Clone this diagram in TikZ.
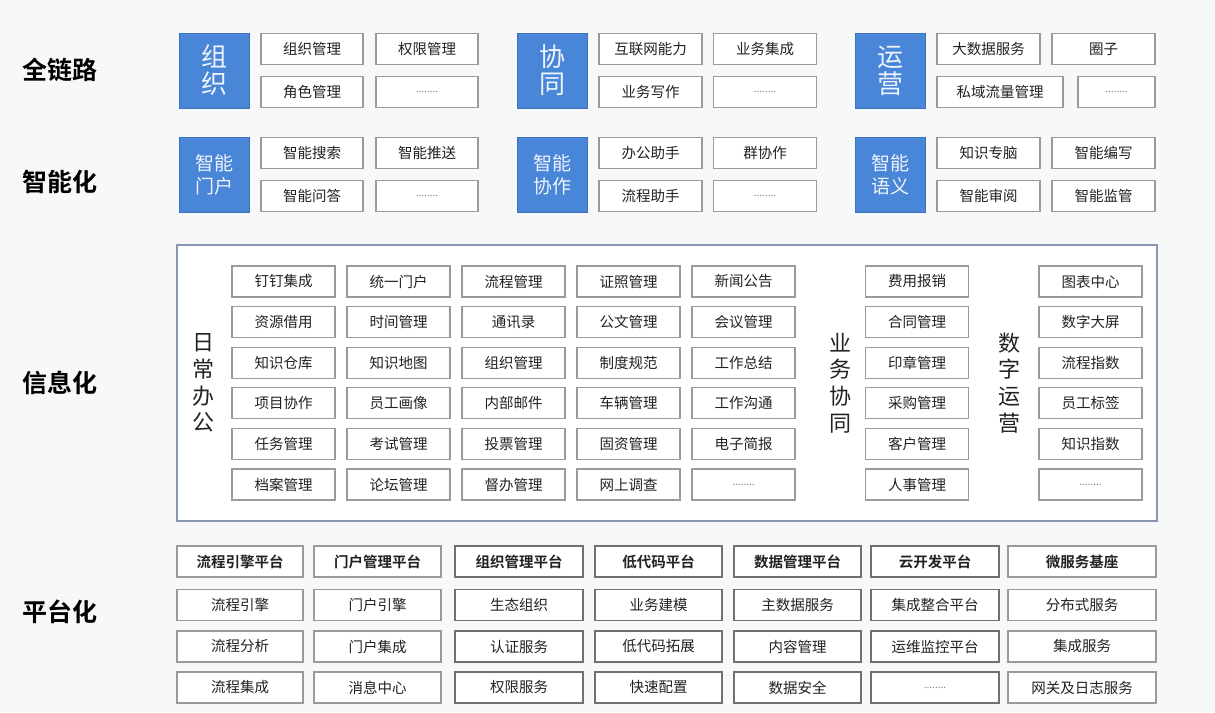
\documentclass[tikz,border=0pt]{standalone}
\usepackage{fontspec}
\setmainfont{Noto Sans CJK SC}[BoldFont={Noto Sans CJK SC Bold}]

\definecolor{bgcol}{HTML}{F7F8F9}
\definecolor{blueblk}{HTML}{4A86D8}
\definecolor{boxlight}{HTML}{9A9A9A}
\definecolor{boxdark}{HTML}{707070}
\definecolor{frameline}{HTML}{8796B2}
\definecolor{txt}{HTML}{222222}

\newcommand\moredots{{\fontsize{10}{10}\selectfont\color{gray}........}}

\begin{document}
\begin{tikzpicture}[x=1pt,y=-1pt,
	cell/.style={draw=boxlight, line width=1.2pt, fill=white, minimum width=103pt, minimum height=31pt, inner sep=0pt, text=txt, font=\fontsize{14.5}{14.5}\selectfont},
	blk/.style={fill=blueblk, draw=blueblk!85!black, line width=0.8pt, minimum width=70pt, minimum height=75pt, inner sep=0pt, align=center, text=white!90!blueblk},
	bigblk/.style={blk, font=\fontsize{26}{27}\selectfont},
	smallblk/.style={blk, font=\fontsize{19}{23}\selectfont},
	rowlbl/.style={text=black, font=\fontsize{25}{25}\selectfont\bfseries},
	vlbl/.style={align=center, text=txt, font=\fontsize{22}{26.7}\selectfont}]
	
	\fill[bgcol] (0,0) rectangle (1215,712);
	\useasboundingbox (0,0) rectangle (1215,712);
	
	% row labels
	\node[rowlbl] (lblall) at (60,70) {全链路};
	\node[rowlbl] (lblai) at (60,182) {智能化};
	\node[rowlbl] (lblinfo) at (60,383) {信息化};
	\node[rowlbl] (lblplat) at (60,612) {平台化};
	
	% top rows
	\node[bigblk] (org) at (214,70.5) {组\\织};
	\node[cell, minimum width=102pt] (org1) at (312,49) {组织管理};
	\node[cell, minimum width=102pt] (org2) at (427,49) {权限管理};
	\node[cell, minimum width=102pt] (org3) at (312,92) {角色管理};
	\node[cell, minimum width=102pt] (org4) at (427,92) {\moredots};
	
	\node[bigblk] (coop) at (552,70.5) {协\\同};
	\node[cell] (coop1) at (650.5,49) {互联网能力};
	\node[cell] (coop2) at (765,49) {业务集成};
	\node[cell] (coop3) at (650.5,92) {业务写作};
	\node[cell] (coop4) at (765,92) {\moredots};
	
	\node[bigblk] (ops) at (890,70.5) {运\\营};
	\node[cell] (ops1) at (988.5,49) {大数据服务};
	\node[cell] (ops2) at (1103.5,49) {圈子};
	\node[cell, minimum width=126pt] (ops3) at (1000,92) {私域流量管理};
	\node[cell, minimum width=77pt] (ops4) at (1116.5,92) {\moredots};
	
	\node[smallblk] (aiportal) at (214,174.5) {智能\\门户};
	\node[cell, minimum width=102pt] (aiportal1) at (312,153) {智能搜索};
	\node[cell, minimum width=102pt] (aiportal2) at (427,153) {智能推送};
	\node[cell, minimum width=102pt] (aiportal3) at (312,196) {智能问答};
	\node[cell, minimum width=102pt] (aiportal4) at (427,196) {\moredots};
	
	\node[smallblk] (aicoop) at (552,174.5) {智能\\协作};
	\node[cell] (aicoop1) at (650.5,153) {办公助手};
	\node[cell] (aicoop2) at (765,153) {群协作};
	\node[cell] (aicoop3) at (650.5,196) {流程助手};
	\node[cell] (aicoop4) at (765,196) {\moredots};
	
	\node[smallblk] (aisem) at (890,174.5) {智能\\语义};
	\node[cell] (aisem1) at (988.5,153) {知识专脑};
	\node[cell] (aisem2) at (1103.5,153) {智能编写};
	\node[cell] (aisem3) at (988.5,196) {智能审阅};
	\node[cell] (aisem4) at (1103.5,196) {智能监管};
	
	% info frame
	\node[draw=frameline, line width=1.5pt, fill=white, minimum width=980pt, minimum height=276pt] (infoframe) at (667,383) {};
	\node[vlbl] (dailylbl) at (203,383) {日\\常\\办\\公};
	\node[vlbl] (bizlbl) at (840,383) {业\\务\\协\\同};
	\node[vlbl] (digilbl) at (1009,383) {数\\字\\运\\营};
	
	\foreach \t [count=\i from 0] in {钉钉集成,统一门户,流程管理,证照管理,新闻公告,
		资源借用,时间管理,通讯录,公文管理,会议管理,
		知识仓库,知识地图,组织管理,制度规范,工作总结,
		项目协作,员工画像,内部邮件,车辆管理,工作沟通,
		任务管理,考试管理,投票管理,固资管理,电子简报,
		档案管理,论坛管理,督办管理,网上调查,\moredots}{
		\pgfmathsetmacro\cx{283.5+115*mod(\i,5)}
		\pgfmathsetmacro\cy{281.5+40.6*div(\i,5)}
		\node[cell] (daily\i) at (\cx,\cy) {\t};
	}
	\foreach \t [count=\i from 0] in {费用报销,合同管理,印章管理,采购管理,客户管理,人事管理}
		\node[cell] (biz\i) at (917,281.5+40.6*\i) {\t};
	\foreach \t [count=\i from 0] in {图表中心,数字大屏,流程指数,员工标签,知识指数,\moredots}
		\node[cell] (digi\i) at (1090.5,281.5+40.6*\i) {\t};
	
	% platform rows
	\foreach \cx/\w/\bc/\hd/\a/\b/\c [count=\k] in {
		240/126/boxlight/流程引擎平台/流程引擎/流程分析/流程集成,
		377.5/127/boxlight/门户管理平台/门户引擎/门户集成/消息中心,
		519/128/boxdark/组织管理平台/生态组织/认证服务/权限服务,
		658.5/127/boxdark/低代码平台/业务建模/低代码拓展/快速配置,
		797.5/127/boxdark/数据管理平台/主数据服务/内容管理/数据安全,
		935/128/boxdark/云开发平台/集成整合平台/运维监控平台/\moredots,
		1082/148/boxlight/微服务基座/分布式服务/集成服务/网关及日志服务}{
		\node[cell, draw=\bc, minimum width=\w pt, font=\fontsize{14.5}{14.5}\selectfont\bfseries] (plat\k) at (\cx,561.5) {\hd};
		\node[cell, draw=\bc, minimum width=\w pt] (plat\k a) at (\cx,605) {\a};
		\node[cell, draw=\bc, minimum width=\w pt] (plat\k b) at (\cx,646.5) {\b};
		\node[cell, draw=\bc, minimum width=\w pt] (plat\k c) at (\cx,687.5) {\c};
	}
\end{tikzpicture}
\end{document}
